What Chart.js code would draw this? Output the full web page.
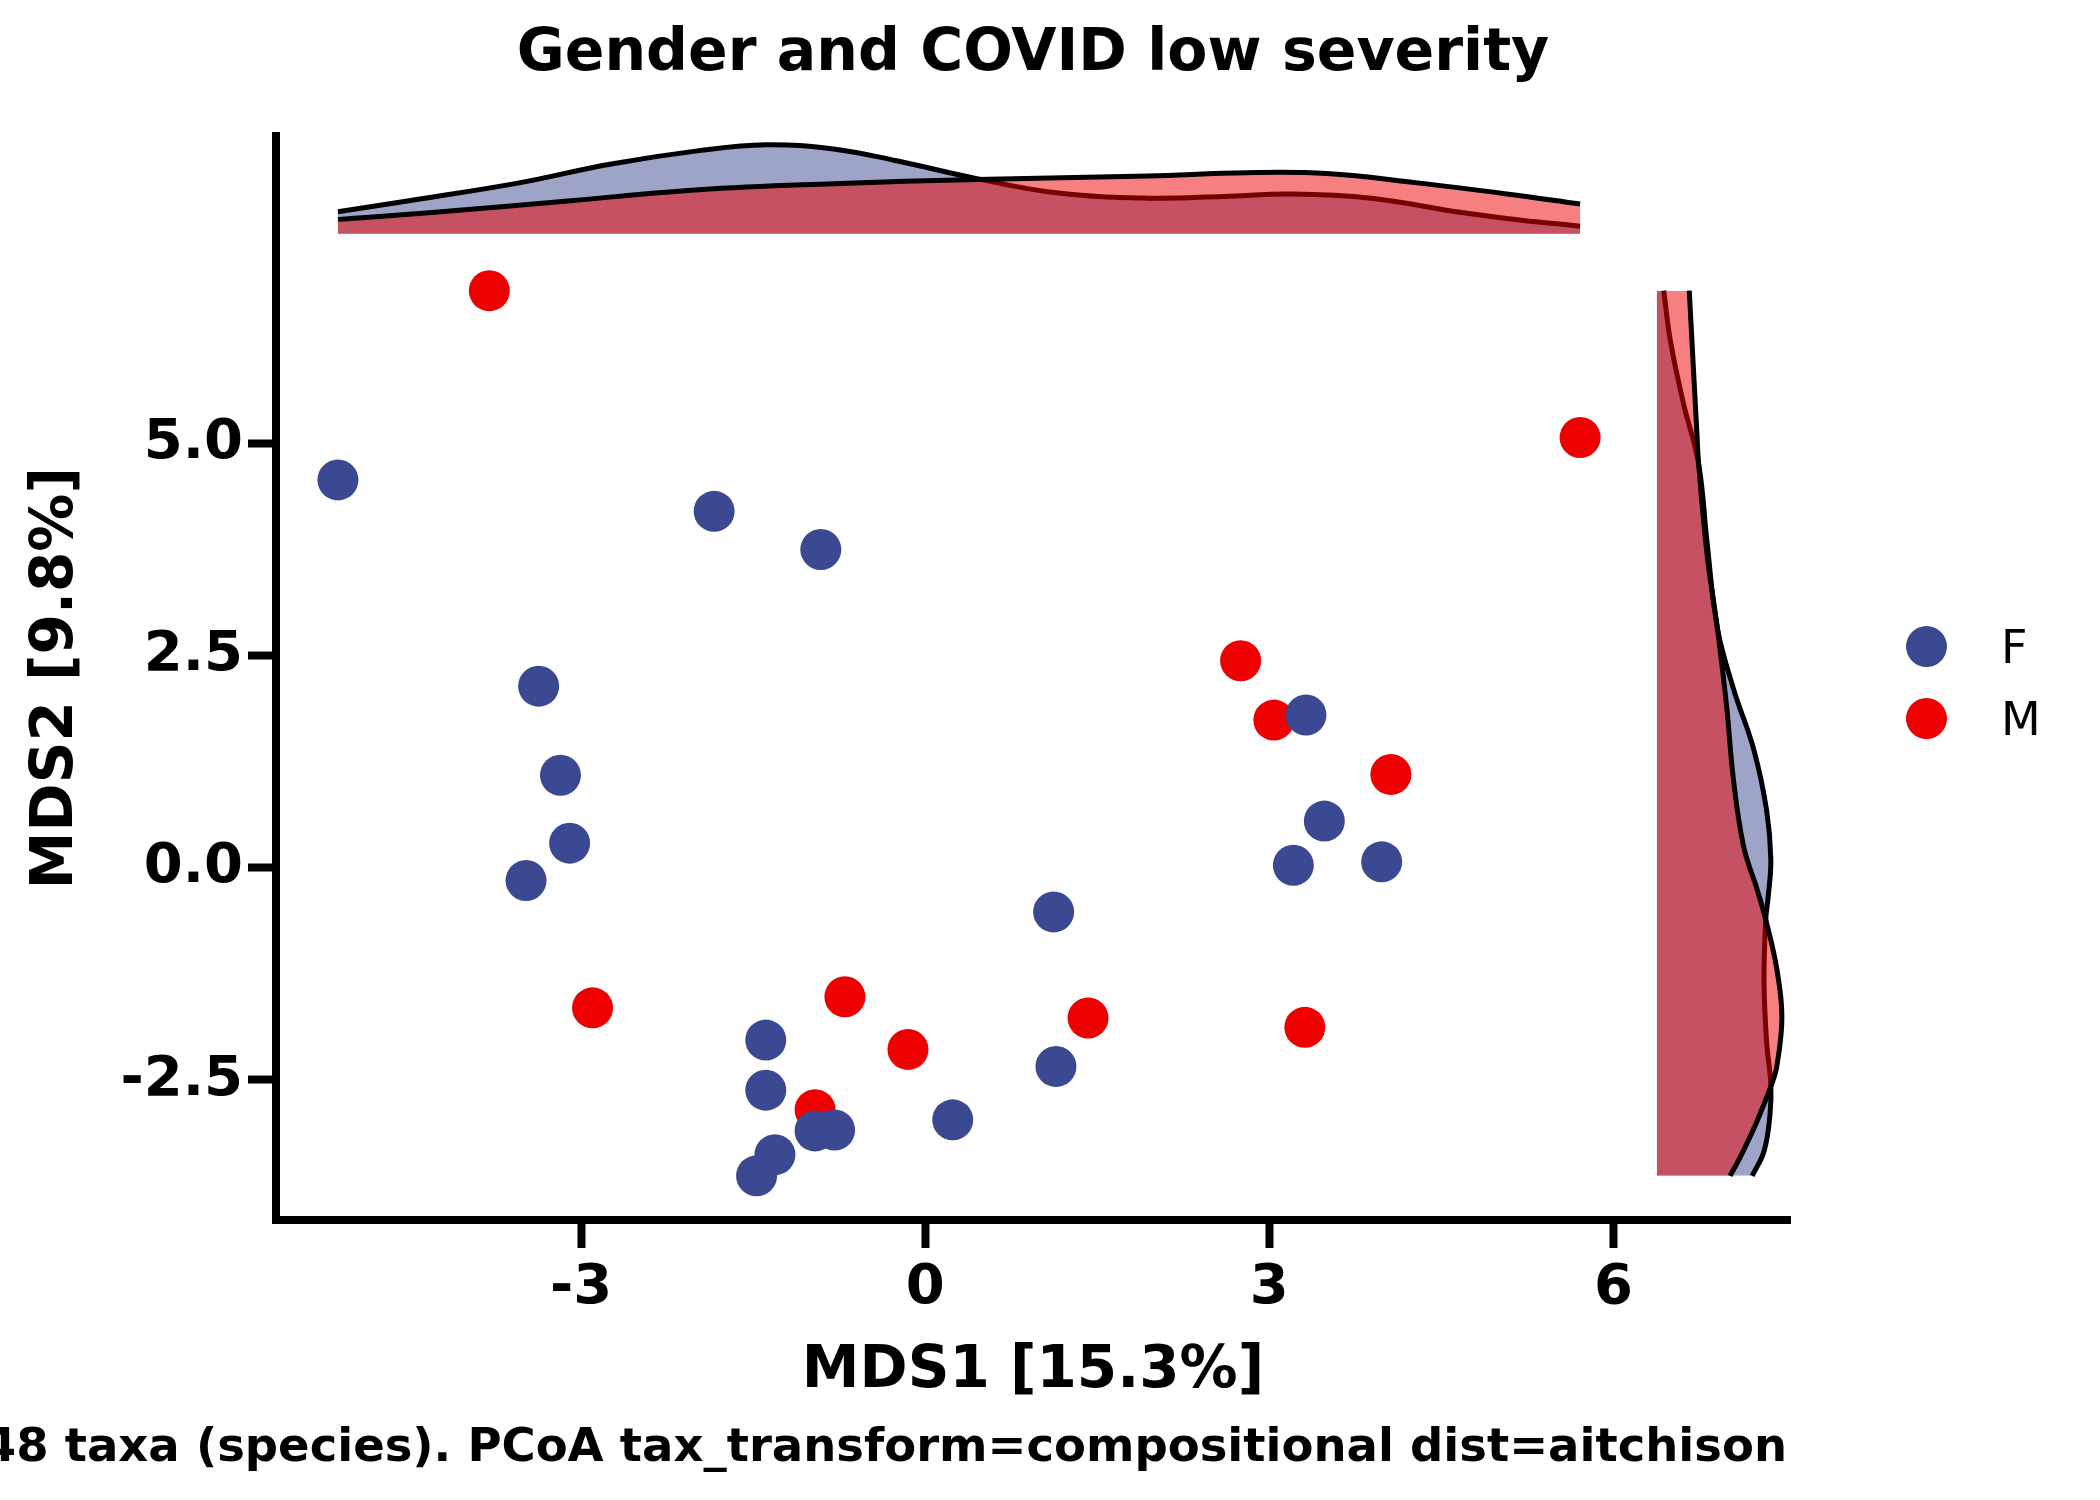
<!DOCTYPE html>
<html>
<head>
<meta charset="utf-8">
<title>Gender and COVID low severity</title>
<script src="https://cdn.jsdelivr.net/npm/chart.js@4.4.1/dist/chart.umd.min.js"></script>
<style>
  body { margin: 0; background: #fff; overflow: hidden; font-family: 'DejaVu Sans', sans-serif; }
  #wrap { position: relative; width: 2100px; height: 1500px; }
  #legend { position: absolute; left: 1906px; top: 626px; }
  .key { display: flex; align-items: center; height: 41px; margin-bottom: 31px; font-size: 46px; line-height: 1; color: #000; }
  .dot { width: 41px; height: 41px; border-radius: 50%; margin-right: 54px; }
  #caption { position: absolute; right: 313px; top: 1422px; font-size: 46.5px; font-weight: bold; line-height: 1; white-space: nowrap; color: #000; }
</style>
</head>
<body>
<div id="wrap">
  <canvas id="pcoa" width="2100" height="1500"></canvas>
  <div id="legend"></div>
  <div id="caption">48 taxa (species). PCoA tax_transform=compositional dist=aitchison</div>
</div>
<script>
// sample coordinates
const femaleX = [-5.12, -1.84, -0.91, -3.37, -3.18, -3.10, -3.48, 3.32, 3.48, 3.21, 3.98, 1.12, 1.14, -1.39, -1.39, 0.24, -0.96, -0.79, -1.31, -1.47];
const femaleY = [4.57, 4.20, 3.75, 2.14, 1.09, 0.29, -0.15, 1.80, 0.55, 0.03, 0.07, -0.52, -2.34, -2.03, -2.62, -2.97, -3.10, -3.09, -3.38, -3.63];
const maleX = [-3.80, 5.71, 2.75, 3.04, 4.06, -2.90, -0.70, -0.15, 1.42, 3.31, -0.96];
const maleY = [6.80, 5.07, 2.44, 1.74, 1.10, -1.65, -1.52, -2.14, -1.77, -1.88, -2.85];

// marginal densities (top: along MDS1, side: along MDS2)
const topFemaleX = [-5.12, -4.5, -3.54, -2.75, -1.97, -1.39, -0.80, -0.25, 0.45, 1.16, 1.94, 2.6, 3.19, 3.89, 4.68, 5.2, 5.71];
const topFemaleDens = [0.026, 0.039, 0.060, 0.082, 0.098, 0.105, 0.100, 0.086, 0.065, 0.048, 0.042, 0.044, 0.047, 0.042, 0.025, 0.016, 0.009];
const topMaleX = [-5.12, -4.3, -3.09, -1.97, -0.80, 0.45, 1.94, 2.80, 3.50, 4.29, 5.07, 5.71];
const topMaleDens = [0.017, 0.025, 0.039, 0.052, 0.059, 0.064, 0.068, 0.072, 0.071, 0.060, 0.047, 0.035];

const sideFemaleY = [6.80, 6.20, 5.48, 4.76, 3.83, 2.83, 2.11, 1.39, 0.68, 0.10, -0.33, -0.61, -1.33, -2.05, -2.55, -2.91, -3.34, -3.63];
const sideFemaleDens = [0.008, 0.016, 0.031, 0.049, 0.059, 0.071, 0.090, 0.114, 0.129, 0.134, 0.131, 0.128, 0.126, 0.129, 0.134, 0.133, 0.126, 0.112];
const sideMaleY = [6.80, 5.12, 4.76, 3.69, 2.83, 1.90, 1.04, 0.25, -0.26, -0.61, -1.19, -1.76, -2.34, -2.55, -2.98, -3.41, -3.63];
const sideMaleDens = [0.038, 0.047, 0.049, 0.059, 0.071, 0.082, 0.090, 0.102, 0.118, 0.128, 0.141, 0.147, 0.141, 0.135, 0.118, 0.098, 0.086];

const xTicks = [-3, 0, 3, 6];
const xTickLabels = ['-3', '0', '3', '6'];
const yTicks = [-2.5, 0, 2.5, 5];
const yTickLabels = ['-2.5', '0.0', '2.5', '5.0'];

const groups = ['F', 'M'];
const colF = '#3B4992';
const colM = '#EE0000';

// where the margins sit inside the shared axes, and density -> axis units
const topBase = 7.47, topK = 10.0;
const sideBase = 6.38, sideK = 7.41;

const pts = (xs, ys) => xs.map((x, i) => ({ x, y: ys[i] }));

function topCurve(xs, dens) {
  return xs.map((x, i) => ({ x, y: topBase + dens[i] * topK }));
}
function sideCurve(ys, dens) {
  return ys.map((y, i) => ({ x: sideBase + dens[i] * sideK, y }));
}

function densityLine(label, data, fillColor, order, base, vertical) {
  const ds = {
    type: 'line',
    label,
    data,
    borderColor: '#000',
    borderWidth: 5,
    backgroundColor: fillColor,
    fill: { value: base },
    pointRadius: 0,
    pointHoverRadius: 0,
    tension: 0.4,
    order
  };
  if (vertical) ds.indexAxis = 'y';
  return ds;
}

function pointSet(label, data, color, order) {
  return {
    label,
    data,
    backgroundColor: color,
    borderWidth: 0,
    pointRadius: 20.5,
    pointHoverRadius: 20.5,
    order
  };
}

Chart.defaults.font.family = "'DejaVu Sans', sans-serif";
Chart.defaults.color = '#000';

const axisFont = { size: 56, weight: 'bold' };
const titleFont = { size: 58, weight: 'bold' };

new Chart(document.getElementById('pcoa'), {
  type: 'scatter',
  data: {
    datasets: [
      pointSet('F', pts(femaleX, femaleY), colF, 1),
      pointSet('M', pts(maleX, maleY), colM, 2),
      densityLine('F density x', topCurve(topFemaleX, topFemaleDens), 'rgba(59,73,146,0.5)', 6, topBase, false),
      densityLine('M density x', topCurve(topMaleX, topMaleDens), 'rgba(238,0,0,0.5)', 5, topBase, false),
      densityLine('F density y', sideCurve(sideFemaleY, sideFemaleDens), 'rgba(59,73,146,0.5)', 4, sideBase, true),
      densityLine('M density y', sideCurve(sideMaleY, sideMaleDens), 'rgba(238,0,0,0.5)', 3, sideBase, true)
    ]
  },
  options: {
    responsive: false,
    animation: false,
    layout: { padding: { left: 0, right: 310, top: 0, bottom: 0 } },
    plugins: {
      legend: { display: false },
      tooltip: { enabled: false },
      title: {
        display: true,
        text: 'Gender and COVID low severity',
        font: { size: 58.5, weight: 'bold' },
        color: '#000',
        fullSize: false,
        padding: { top: 20, bottom: 46 }
      }
    },
    scales: {
      x: {
        type: 'linear',
        min: -5.66,
        max: 7.54,
        afterBuildTicks: s => { s.ticks = xTicks.map(v => ({ value: v })); },
        afterFit: s => { s.height = 280; },
        ticks: {
          font: axisFont, color: '#000', padding: 7, maxRotation: 0, autoSkip: false,
          callback: (v, i) => xTickLabels[i]
        },
        grid: { drawOnChartArea: false, drawTicks: true, tickLength: 28, tickWidth: 8, tickColor: '#000' },
        border: { display: true, width: 8, color: '#000' },
        title: { display: true, text: 'MDS1 [15.3%]', font: titleFont, color: '#000', padding: { top: 0, bottom: 93 } }
      },
      y: {
        type: 'linear',
        min: -4.15,
        max: 8.62,
        afterBuildTicks: s => { s.ticks = yTicks.map(v => ({ value: v })); },
        afterFit: s => { s.width = 276; },
        ticks: {
          font: axisFont, color: '#000', padding: 5, autoSkip: false,
          callback: (v, i) => yTickLabels[i]
        },
        grid: { drawOnChartArea: false, drawTicks: true, tickLength: 28, tickWidth: 8, tickColor: '#000' },
        border: { display: true, width: 8, color: '#000' },
        title: { display: true, text: 'MDS2 [9.8%]', font: titleFont, color: '#000', padding: { top: 22, bottom: 0 } }
      }
    }
  }
});

// legend for the two groups
const legendEl = document.getElementById('legend');
legendEl.innerHTML = groups.map((g, i) => `
  <div class="key"><span class="dot" style="background:${i === 0 ? colF : colM};"></span><span>${g}</span></div>
`).join('');
</script>
</body>
</html>
